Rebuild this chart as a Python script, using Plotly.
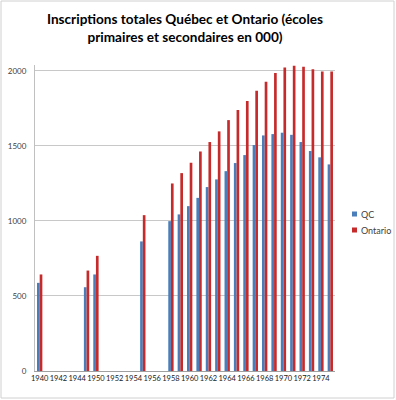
import plotly.graph_objects as go

years = ["1940", "1941", "1942", "1943", "1944", "1945",
         "1950", "1951", "1952", "1953", "1954", "1955", "1956", "1957",
         "1958", "1959", "1960", "1961", "1962", "1963", "1964", "1965",
         "1966", "1967", "1968", "1969", "1970", "1971", "1972", "1973",
         "1974", "1975"]

qc = [587, None, None, None, None, 558,
      643, None, None, None, None, 863, None, None,
      998, 1043, 1098, 1153, 1225, 1276, 1331, 1385,
      1438, 1505, 1569, 1578, 1587, 1573, 1525, 1465,
      1423, 1376]

ontario = [643, None, None, None, None, 669,
           767, None, None, None, None, 1038, None, None,
           1249, 1318, 1387, 1462, 1525, 1596, 1671, 1738,
           1798, 1867, 1927, 1985, 2022, 2033, 2027, 2009,
           1995, 1995]

series_names = ["QC", "Ontario"]
series_colors = ["#4A7EBB", "#C62B2B"]

tick_years = years[0::2]
y_ticks = [0, 500, 1000, 1500, 2000]

title_text = "Inscriptions totales Québec et Ontario (écoles<br>primaires et secondaires en 000)"

fig = go.Figure()
for name, vals, col in zip(series_names, [qc, ontario], series_colors):
    fig.add_trace(go.Bar(x=years, y=vals, name=name, showlegend=False,
                         marker=dict(color=col, line=dict(width=0))))

W, H = 396, 400
ml, mr, mt, mb = 35, 61, 65, 29
pw = W - ml - mr
ph = H - mt - mb

def px2x(p):
    return (p - ml) / pw

def py2y(p):
    return (H - mb - p) / ph

shapes = [dict(type="rect", xref="paper", yref="paper",
               x0=px2x(1), x1=px2x(W - 2), y0=py2y(H - 2), y1=py2y(1),
               line=dict(color="#D0D0D0", width=1), fillcolor="rgba(0,0,0,0)")]
annotations = []
legend_y = [214, 230]
for name, col, yy in zip(series_names, series_colors, legend_y):
    shapes.append(dict(type="rect", xref="paper", yref="paper",
                       x0=px2x(352), x1=px2x(357), y0=py2y(yy + 2.5), y1=py2y(yy - 2.5),
                       line=dict(width=0), fillcolor=col))
    annotations.append(dict(text=name, xref="paper", yref="paper",
                            x=px2x(359), y=py2y(yy), xanchor="left", yanchor="middle",
                            showarrow=False, font=dict(size=9, color="#404040")))

fig.update_layout(
    width=W, height=H,
    margin=dict(l=ml, r=mr, t=mt, b=mb, autoexpand=False),
    paper_bgcolor="white", plot_bgcolor="white",
    barmode="group", bargap=0.43, bargroupgap=0,
    font=dict(family="Lato, Open Sans, sans-serif", color="#404040"),
    title=dict(text=title_text, x=0.5, xanchor="center", xref="paper",
               y=1 - 24 / H, yanchor="middle",
               font=dict(size=13.6, color="#000000", family="Lato, Open Sans, sans-serif", weight="bold")),
    showlegend=False,
    xaxis=dict(type="category", tickmode="array", tickvals=tick_years, ticktext=tick_years,
               tickangle=0, tickfont=dict(size=7.5, color="#202020"), automargin=False,
               showline=True, linecolor="#A0A0A0", linewidth=1,
               ticks="", showgrid=False, categoryorder="array", categoryarray=years),
    yaxis=dict(range=[0, 2038], tickvals=y_ticks, tickfont=dict(size=8, color="#404040"),
               automargin=False,
               showgrid=True, gridcolor="#C8C8C8", gridwidth=1,
               showline=True, linecolor="#C0C0C0", linewidth=1,
               zeroline=False, ticks="", ticklabelstandoff=6),
    shapes=shapes,
    annotations=annotations,
)

fig.write_html("out.html", config={"displayModeBar": False},
               post_script="document.body.style.margin='0px';document.body.style.padding='0px';")
